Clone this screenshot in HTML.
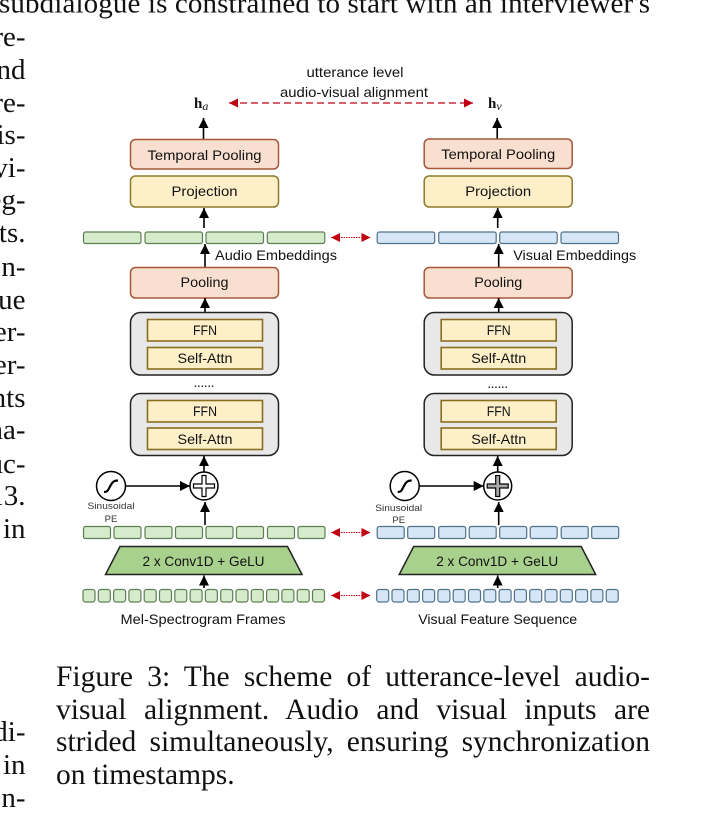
<!DOCTYPE html>
<html><head><meta charset="utf-8"><style>
html,body{margin:0;padding:0;background:#fff;width:703px;height:821px;overflow:hidden;position:relative}
svg{display:block}
.t{font-family:"Liberation Serif",serif;font-size:29px;fill:#111}
.cap{position:absolute;left:56px;width:594px;height:33px;line-height:33px;font-family:"Liberation Serif",serif;font-size:29.5px;color:#111;text-align:justify;text-align-last:justify;white-space:normal}
.s{font-family:"Liberation Sans",sans-serif;font-size:14px;fill:#111;text-anchor:middle}
.m{font-family:"Liberation Sans",sans-serif;font-size:9.5px;fill:#333;text-anchor:middle}
.p{fill:#f8dfd0;stroke:#a5583a;stroke-width:1.5}
.y{fill:#fdf0c8;stroke:#8f7a2c;stroke-width:1.5}
.g{fill:#d5ebcc;stroke:#5c7f52;stroke-width:1.2}
.b{fill:#d6e6f6;stroke:#4f7189;stroke-width:1.2}
.e{fill:#e8e8e8;stroke:#222;stroke-width:1.5}
.i{fill:#fdf0c8;stroke:#8a6d1e;stroke-width:1.6}
.a{stroke:#000;stroke-width:1.6;fill:none;marker-end:url(#k)}
.r{stroke:#c00010;stroke-width:1;stroke-dasharray:1.5 1;fill:none;marker-start:url(#rs);marker-end:url(#re)}
</style></head><body>
<svg width="703" height="821" viewBox="0 0 703 821" xmlns="http://www.w3.org/2000/svg">
<defs>
<marker id="k" markerUnits="userSpaceOnUse" markerWidth="11" markerHeight="11" refX="10" refY="5" orient="auto"><path d="M0 0L10 5L0 10Z" fill="#000"/></marker>
<marker id="re" markerUnits="userSpaceOnUse" markerWidth="10" markerHeight="10" refX="9" refY="4.5" orient="auto"><path d="M0 0L9 4.5L0 9Z" fill="#c00010"/></marker>
<marker id="rs" markerUnits="userSpaceOnUse" markerWidth="10" markerHeight="10" refX="0" refY="4.5" orient="auto"><path d="M9 0L0 4.5L9 9Z" fill="#c00010"/></marker>
</defs>

<!-- surrounding text -->
<text class="t" x="-1" y="12.7" textLength="651" lengthAdjust="spacing">subdialogue is constrained to start with an interviewer's</text>
<g class="t" text-anchor="end" transform="translate(0.5 1)">
<text x="25" y="45">re-</text><text x="25" y="78">nd</text><text x="25" y="111">re-</text><text x="25" y="143">is-</text>
<text x="25" y="176">vi-</text><text x="25" y="208">eg-</text><text x="25" y="241">ts.</text><text x="25" y="275">n-</text>
<text x="25" y="308">ue</text><text x="25" y="340">er-</text><text x="25" y="373">er-</text><text x="25" y="406">nts</text>
<text x="25" y="438">na-</text><text x="25" y="472">uc-</text><text x="25" y="504">13.</text><text x="25" y="537">in</text>
<text x="25" y="740">di-</text><text x="25" y="773">in</text><text x="25" y="806">n-</text>
</g>

<!-- top alignment -->
<text class="s" x="355" y="77" textLength="97" lengthAdjust="spacingAndGlyphs">utterance level</text>
<text class="s" x="354" y="97" textLength="148" lengthAdjust="spacingAndGlyphs">audio-visual alignment</text>
<line x1="229" y1="103" x2="473" y2="103" stroke="#c00010" stroke-width="1.2" stroke-dasharray="7 4" marker-start="url(#rs)" marker-end="url(#re)"/>
<text x="194" y="108" font-family="Liberation Serif,serif" font-size="15" font-weight="bold" fill="#111">h<tspan font-style="italic" font-weight="normal" font-size="12" dy="2">a</tspan></text>
<text x="488" y="108" font-family="Liberation Serif,serif" font-size="15" font-weight="bold" fill="#111">h<tspan font-style="italic" font-weight="normal" font-size="12" dy="2">v</tspan></text>

<!-- left column -->
<g>
<line class="a" x1="203.5" y1="139" x2="203.5" y2="118"/>
<rect class="p" x="130.5" y="139.5" width="148" height="29.5" rx="5"/>
<text class="s" x="204.5" y="160" textLength="114" lengthAdjust="spacingAndGlyphs">Temporal Pooling</text>
<rect class="y" x="130.5" y="176" width="148" height="31" rx="5"/>
<text class="s" x="204.5" y="196" textLength="66" lengthAdjust="spacingAndGlyphs">Projection</text>
<line class="a" x1="204" y1="228" x2="204" y2="208"/>
<rect class="g" x="83.5" y="232" width="57.5" height="11.5" rx="2"/><rect class="g" x="145" y="232" width="57.5" height="11.5" rx="2"/><rect class="g" x="206" y="232" width="57.5" height="11.5" rx="2"/><rect class="g" x="267.3" y="232" width="57.5" height="11.5" rx="2"/>
<line class="a" x1="205" y1="267" x2="205" y2="244"/>
<text class="s" x="276" y="260" textLength="122" lengthAdjust="spacingAndGlyphs">Audio Embeddings</text>
<rect class="p" x="130.5" y="267.5" width="148" height="30.5" rx="5"/>
<text class="s" x="204.5" y="287" textLength="48" lengthAdjust="spacingAndGlyphs">Pooling</text>
<line class="a" x1="205" y1="312" x2="205" y2="298"/>
<rect class="e" x="130.5" y="312.5" width="148" height="62.5" rx="10"/>
<rect class="i" x="147.5" y="319.5" width="115" height="21.5"/>
<text class="s" x="205" y="335" textLength="24" lengthAdjust="spacingAndGlyphs">FFN</text>
<rect class="i" x="147.5" y="347.5" width="115" height="21.5"/>
<text class="s" x="205" y="363" textLength="55" lengthAdjust="spacingAndGlyphs">Self-Attn</text>
<text class="s" x="204" y="387" font-size="11" textLength="21" lengthAdjust="spacing">......</text>
<rect class="e" x="130.5" y="393.5" width="148" height="62" rx="10"/>
<rect class="i" x="147.5" y="400.5" width="115" height="21.5"/>
<text class="s" x="205" y="416" textLength="24" lengthAdjust="spacingAndGlyphs">FFN</text>
<rect class="i" x="147.5" y="428" width="115" height="21.5"/>
<text class="s" x="205" y="444" textLength="55" lengthAdjust="spacingAndGlyphs">Self-Attn</text>
<line class="a" x1="204" y1="472" x2="204" y2="456"/>
<circle cx="204" cy="486" r="14" fill="#fff" stroke="#000" stroke-width="1.5"/>
<path d="M202 475.5h4v8.5h8.5v4h-8.5v8.5h-4v-8.5h-8.5v-4h8.5z" fill="#fff" stroke="#000" stroke-width="1.2"/>
<circle cx="111" cy="486" r="14.5" fill="#fff" stroke="#000" stroke-width="1.5"/>
<path d="M104 492c4 0 4-2 6-5.5s3-6 8-6" fill="none" stroke="#000" stroke-width="2.2"/>
<line class="a" x1="125.5" y1="486" x2="190" y2="486"/>
<text class="m" x="111" y="509" textLength="47" lengthAdjust="spacingAndGlyphs">Sinusoidal</text>
<text class="m" x="111" y="522">PE</text>
<line class="a" x1="205" y1="525" x2="205" y2="502"/>
<rect class="g" x="83.5" y="526.5" width="27" height="12" rx="2"/><rect class="g" x="114" y="526.5" width="27" height="12" rx="2"/><rect class="g" x="145" y="526.5" width="27" height="12" rx="2"/><rect class="g" x="175.5" y="526.5" width="27" height="12" rx="2"/><rect class="g" x="206" y="526.5" width="27" height="12" rx="2"/><rect class="g" x="236.5" y="526.5" width="27" height="12" rx="2"/><rect class="g" x="267.5" y="526.5" width="27" height="12" rx="2"/><rect class="g" x="298" y="526.5" width="27" height="12" rx="2"/>
<path d="M120 546.5H287.5L302 574.5H105.5Z" fill="#a9d18e" stroke="#222" stroke-width="1.5"/>
<text class="s" x="203.5" y="566" textLength="122" lengthAdjust="spacingAndGlyphs">2 x Conv1D + GeLU</text>
<line class="a" x1="204" y1="588" x2="204" y2="575.5"/>
<g class="g"><rect x="83" y="589.5" width="12" height="12.5" rx="2.5"/><rect x="98.3" y="589.5" width="12" height="12.5" rx="2.5"/><rect x="113.6" y="589.5" width="12" height="12.5" rx="2.5"/><rect x="128.9" y="589.5" width="12" height="12.5" rx="2.5"/><rect x="144.2" y="589.5" width="12" height="12.5" rx="2.5"/><rect x="159.5" y="589.5" width="12" height="12.5" rx="2.5"/><rect x="174.8" y="589.5" width="12" height="12.5" rx="2.5"/><rect x="190.1" y="589.5" width="12" height="12.5" rx="2.5"/><rect x="205.4" y="589.5" width="12" height="12.5" rx="2.5"/><rect x="220.7" y="589.5" width="12" height="12.5" rx="2.5"/><rect x="236" y="589.5" width="12" height="12.5" rx="2.5"/><rect x="251.3" y="589.5" width="12" height="12.5" rx="2.5"/><rect x="266.6" y="589.5" width="12" height="12.5" rx="2.5"/><rect x="281.9" y="589.5" width="12" height="12.5" rx="2.5"/><rect x="297.2" y="589.5" width="12" height="12.5" rx="2.5"/><rect x="312.5" y="589.5" width="12" height="12.5" rx="2.5"/></g>
<text class="s" x="203" y="624" textLength="165" lengthAdjust="spacingAndGlyphs">Mel-Spectrogram Frames</text>
</g>

<!-- right column -->
<g transform="translate(293.7 0)">
<line class="a" x1="203.5" y1="139" x2="203.5" y2="118"/>
<rect class="p" x="130.5" y="139" width="148" height="29.5" rx="5"/>
<text class="s" x="204.5" y="159" textLength="114" lengthAdjust="spacingAndGlyphs">Temporal Pooling</text>
<rect class="y" x="130.5" y="176" width="148" height="31" rx="5"/>
<text class="s" x="204.5" y="196" textLength="66" lengthAdjust="spacingAndGlyphs">Projection</text>
<line class="a" x1="204" y1="228" x2="204" y2="208"/>
<rect class="b" x="83.5" y="232" width="57.5" height="11.5" rx="2"/><rect class="b" x="145" y="232" width="57.5" height="11.5" rx="2"/><rect class="b" x="206" y="232" width="57.5" height="11.5" rx="2"/><rect class="b" x="267.3" y="232" width="57.5" height="11.5" rx="2"/>
<line class="a" x1="205" y1="267" x2="205" y2="244"/>
<text class="s" x="281" y="260" textLength="123" lengthAdjust="spacingAndGlyphs">Visual Embeddings</text>
<rect class="p" x="130.5" y="267.5" width="148" height="30.5" rx="5"/>
<text class="s" x="204.5" y="287" textLength="48" lengthAdjust="spacingAndGlyphs">Pooling</text>
<line class="a" x1="205" y1="312" x2="205" y2="298"/>
<rect class="e" x="130.5" y="312.5" width="148" height="62.5" rx="10"/>
<rect class="i" x="147.5" y="319.5" width="115" height="21.5"/>
<text class="s" x="205" y="335" textLength="24" lengthAdjust="spacingAndGlyphs">FFN</text>
<rect class="i" x="147.5" y="347.5" width="115" height="21.5"/>
<text class="s" x="205" y="363" textLength="55" lengthAdjust="spacingAndGlyphs">Self-Attn</text>
<text class="s" x="204" y="388" font-size="11" textLength="21" lengthAdjust="spacing">......</text>
<rect class="e" x="130.5" y="393.5" width="148" height="62" rx="10"/>
<rect class="i" x="147.5" y="400.5" width="115" height="21.5"/>
<text class="s" x="205" y="416" textLength="24" lengthAdjust="spacingAndGlyphs">FFN</text>
<rect class="i" x="147.5" y="428" width="115" height="21.5"/>
<text class="s" x="205" y="444" textLength="55" lengthAdjust="spacingAndGlyphs">Self-Attn</text>
<line class="a" x1="204" y1="472" x2="204" y2="456"/>
<circle cx="204" cy="486" r="14" fill="#fff" stroke="#000" stroke-width="1.5"/>
<path d="M202 475.5h4v8.5h8.5v4h-8.5v8.5h-4v-8.5h-8.5v-4h8.5z" fill="#aaa" stroke="#000" stroke-width="1.2"/>
<circle cx="111" cy="486" r="14.5" fill="#fff" stroke="#000" stroke-width="1.5"/>
<path d="M104 492c4 0 4-2 6-5.5s3-6 8-6" fill="none" stroke="#000" stroke-width="2.2"/>
<line class="a" x1="125.5" y1="486" x2="190" y2="486"/>
<text class="m" x="105" y="511" textLength="47" lengthAdjust="spacingAndGlyphs">Sinusoidal</text>
<text class="m" x="105" y="523">PE</text>
<line class="a" x1="205" y1="525" x2="205" y2="502"/>
<rect class="b" x="83.5" y="526.5" width="27" height="12" rx="2"/><rect class="b" x="114" y="526.5" width="27" height="12" rx="2"/><rect class="b" x="145" y="526.5" width="27" height="12" rx="2"/><rect class="b" x="175.5" y="526.5" width="27" height="12" rx="2"/><rect class="b" x="206" y="526.5" width="27" height="12" rx="2"/><rect class="b" x="236.5" y="526.5" width="27" height="12" rx="2"/><rect class="b" x="267.5" y="526.5" width="27" height="12" rx="2"/><rect class="b" x="298" y="526.5" width="27" height="12" rx="2"/>
<path d="M120 546.5H287.5L302 574.5H105.5Z" fill="#a9d18e" stroke="#222" stroke-width="1.5"/>
<text class="s" x="203.5" y="566" textLength="122" lengthAdjust="spacingAndGlyphs">2 x Conv1D + GeLU</text>
<line class="a" x1="204" y1="588" x2="204" y2="575.5"/>
<g class="b"><rect x="83" y="589.5" width="12" height="12.5" rx="2.5"/><rect x="98.3" y="589.5" width="12" height="12.5" rx="2.5"/><rect x="113.6" y="589.5" width="12" height="12.5" rx="2.5"/><rect x="128.9" y="589.5" width="12" height="12.5" rx="2.5"/><rect x="144.2" y="589.5" width="12" height="12.5" rx="2.5"/><rect x="159.5" y="589.5" width="12" height="12.5" rx="2.5"/><rect x="174.8" y="589.5" width="12" height="12.5" rx="2.5"/><rect x="190.1" y="589.5" width="12" height="12.5" rx="2.5"/><rect x="205.4" y="589.5" width="12" height="12.5" rx="2.5"/><rect x="220.7" y="589.5" width="12" height="12.5" rx="2.5"/><rect x="236" y="589.5" width="12" height="12.5" rx="2.5"/><rect x="251.3" y="589.5" width="12" height="12.5" rx="2.5"/><rect x="266.6" y="589.5" width="12" height="12.5" rx="2.5"/><rect x="281.9" y="589.5" width="12" height="12.5" rx="2.5"/><rect x="297.2" y="589.5" width="12" height="12.5" rx="2.5"/><rect x="312.5" y="589.5" width="12" height="12.5" rx="2.5"/></g>
<text class="s" x="204" y="624" textLength="159" lengthAdjust="spacingAndGlyphs">Visual Feature Sequence</text>
</g>

<!-- red dotted links -->
<line class="r" x1="331" y1="237.5" x2="370.5" y2="237.5"/>
<line class="r" x1="331" y1="532.5" x2="370.5" y2="532.5"/>
<line class="r" x1="331" y1="595.5" x2="370.5" y2="595.5"/>
</svg>
<div class="cap" style="top:661px">Figure 3: The scheme of utterance-level audio-</div>
<div class="cap" style="top:694px">visual alignment. Audio and visual inputs are</div>
<div class="cap" style="top:726px">strided simultaneously, ensuring synchronization</div>
<div class="cap" style="top:759px;text-align:left;text-align-last:left">on timestamps.</div>
</body></html>
